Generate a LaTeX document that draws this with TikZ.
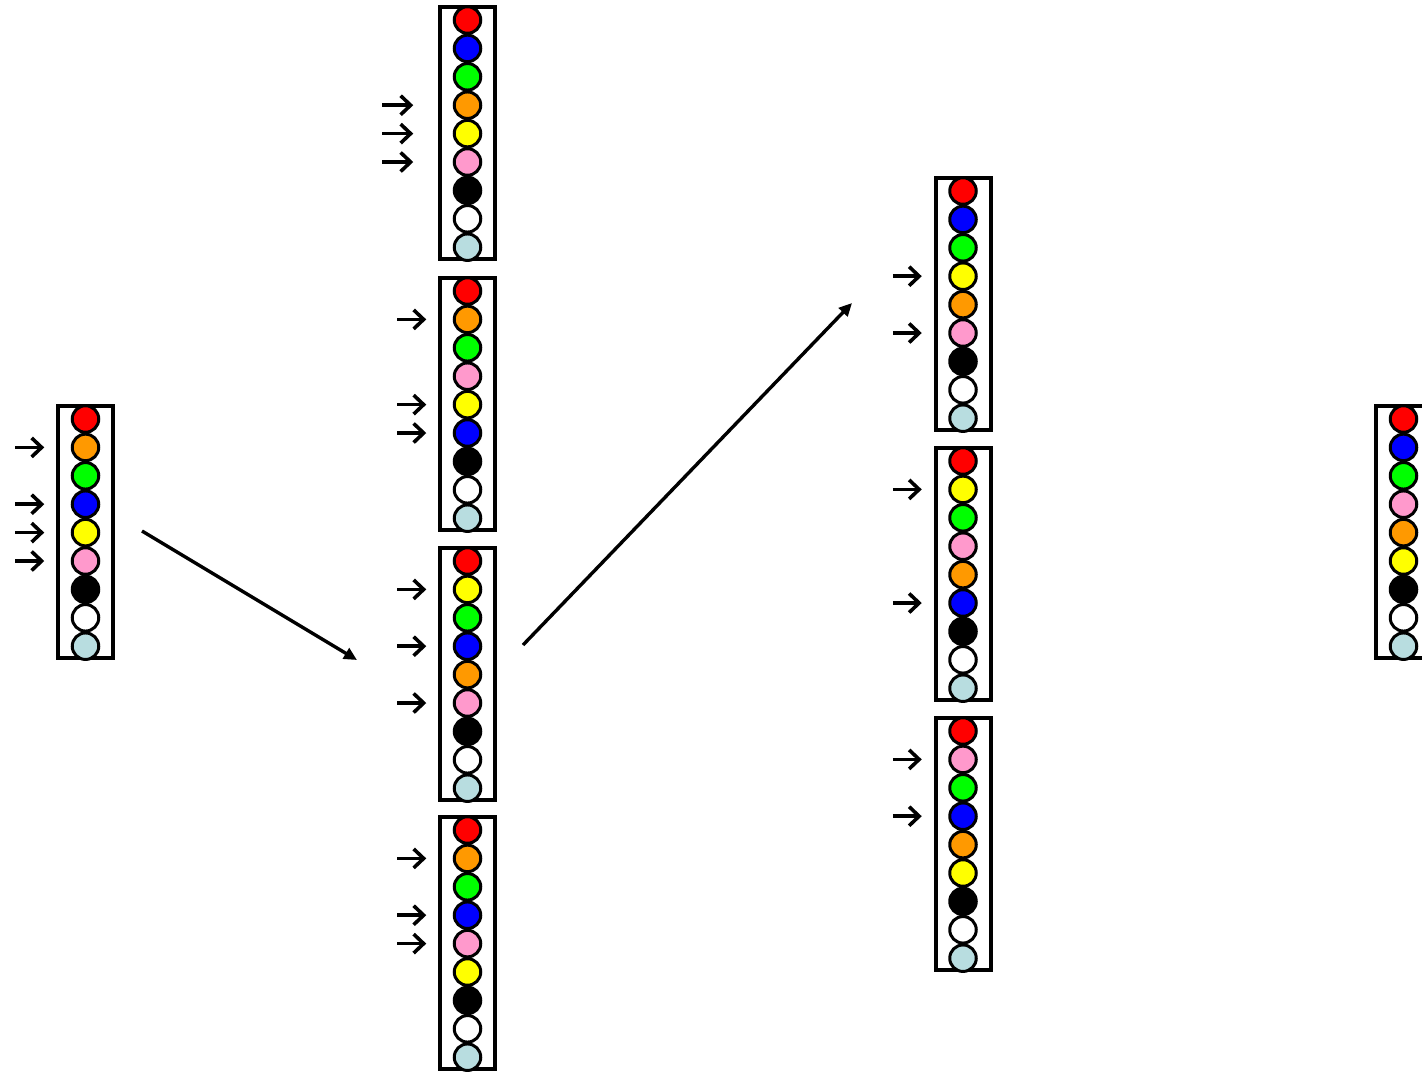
\documentclass[tikz,border=0pt]{standalone}
\usetikzlibrary{arrows.meta}
\definecolor{cr}{RGB}{255,0,0}
\definecolor{cb}{RGB}{0,0,255}
\definecolor{cg}{RGB}{0,255,0}
\definecolor{co}{RGB}{255,153,0}
\definecolor{cy}{RGB}{255,255,0}
\definecolor{cp}{RGB}{255,153,204}
\definecolor{ck}{RGB}{0,0,0}
\definecolor{cw}{RGB}{255,255,255}
\definecolor{cl}{RGB}{184,221,224}
\newcommand\mytube[4]{%
  \node[tubebox] (#1) at (#2,#3+2) {};
  \foreach \c [count=\i from 1] in {#4} {
    \node[ball, fill=\c] (#1-\i) at (#2,#3+15+28.4*\i-28.4) {};
  }%
}
\newcommand\myptr[2]{\draw[pointer] ([xshift=-57pt]#1-#2.west) -- ([xshift=-28pt]#1-#2.west);}
\newcommand\myptrfar[2]{\draw[pointer] ([xshift=-72pt]#1-#2.west) -- ([xshift=-41pt]#1-#2.west);}
\begin{document}
\begin{tikzpicture}[x=1pt,y=-1pt,
  tubebox/.style={draw,line width=4pt,minimum width=55pt,minimum height=252pt,inner sep=0pt,outer sep=0pt,anchor=north,fill=white},
  ball/.style={circle,draw,line width=3pt,minimum size=26.5pt,inner sep=0pt,outer sep=0pt},
  pointer/.style={line width=3.6pt,-{Straight Barb[length=10pt,width=19pt]}},
  bigarrow/.style={line width=3.4pt,-{Triangle[length=13pt,width=12pt]}}]
\useasboundingbox (0,0) rectangle (1422,1072);
\clip (0,0) rectangle (1422,1072);
% left
\mytube{L}{85.5}{404}{cr,co,cg,cb,cy,cp,ck,cw,cl}
% middle
\mytube{MA}{467.5}{5}{cr,cb,cg,co,cy,cp,ck,cw,cl}
\mytube{MB}{467.5}{276}{cr,co,cg,cp,cy,cb,ck,cw,cl}
\mytube{MC}{467.5}{546}{cr,cy,cg,cb,co,cp,ck,cw,cl}
\mytube{MD}{467.5}{815}{cr,co,cg,cb,cp,cy,ck,cw,cl}
% right
\mytube{RA}{963}{176}{cr,cb,cg,cy,co,cp,ck,cw,cl}
\mytube{RB}{963}{446}{cr,cy,cg,cp,co,cb,ck,cw,cl}
\mytube{RC}{963}{716}{cr,cp,cg,cb,co,cy,ck,cw,cl}
% far right
\mytube{FR}{1403.5}{404}{cr,cb,cg,cp,co,cy,ck,cw,cl}
% pointers
\myptr{L}{2}\myptr{L}{4}\myptr{L}{5}\myptr{L}{6}
\myptrfar{MA}{4}\myptrfar{MA}{5}\myptrfar{MA}{6}
\myptr{MB}{2}\myptr{MB}{5}\myptr{MB}{6}
\myptr{MC}{2}\myptr{MC}{4}\myptr{MC}{6}
\myptr{MD}{2}\myptr{MD}{4}\myptr{MD}{5}
\myptr{RA}{4}\myptr{RA}{6}
\myptr{RB}{2}\myptr{RB}{6}
\myptr{RC}{2}\myptr{RC}{4}
% big arrows
\coordinate (a1s) at (142,531);
\coordinate (a1e) at (357,660);
\coordinate (a2s) at (523,645);
\coordinate (a2e) at (852,303);
\draw[bigarrow] (a1s) -- (a1e);
\draw[bigarrow] (a2s) -- (a2e);
\end{tikzpicture}
\end{document}
